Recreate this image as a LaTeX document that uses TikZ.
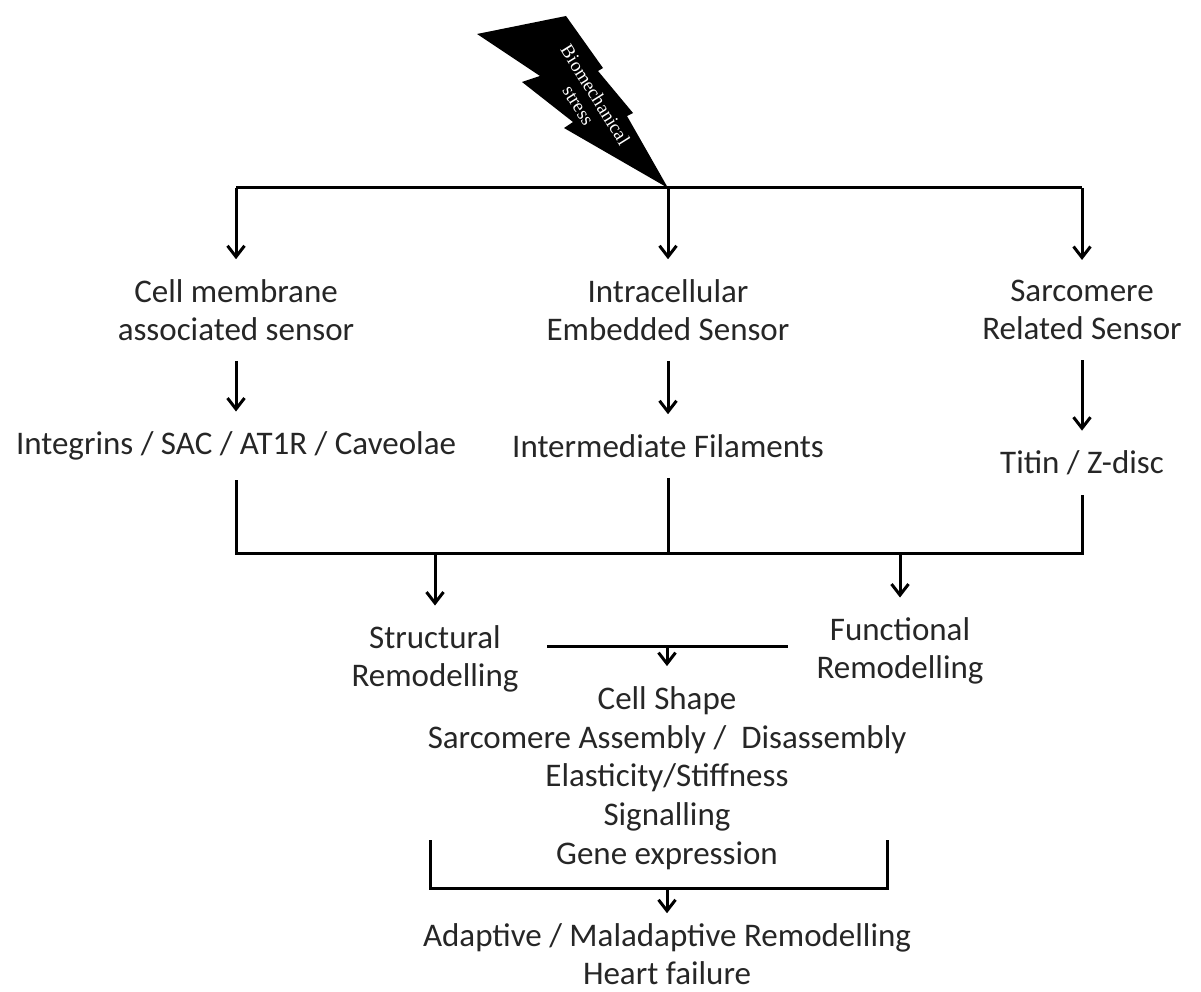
\documentclass[tikz,border=0pt]{standalone}
\usepackage{fontspec}
\setmainfont{Carlito}
\newfontfamily\boltfont{Liberation Serif}
\usetikzlibrary{arrows.meta}

\begin{document}
\begin{tikzpicture}[x=1pt, y=-1pt,
			>={Straight Barb[length=11pt,width=17pt,line width=3pt]},   %arrow tips
			line/.style={line width=3pt},
			arr/.style={line, ->},
			txt/.style={font=\fontsize{33}{38}\selectfont, text=black!85, align=center, inner xsep=0pt, inner ysep=20pt}]
			\useasboundingbox (0,0) rectangle (1201,992);
			%lightning bolt
			\fill (477,34) -- (566,16) -- (603,68) -- (598,71) -- (633,113) -- (627,116) -- (668,188)
				-- (564,128) -- (573,122) -- (522,82) -- (540,76) -- cycle;
			\node[white, rotate=-58, font=\boltfont\fontsize{19}{20}\selectfont, align=center, inner sep=0pt] (stress) at (587,100) {Biomechanical\\stress};
			%split points
			\coordinate (split) at (668,188);
			\coordinate (sl) at (236,188);
			\coordinate (sr) at (1082,188);
			%sensors
			\node[txt] (cell) at (236,310) {Cell membrane\\associated sensor};
			\node[txt] (intra) at (668,310) {Intracellular\\Embedded Sensor};
			\node[txt] (sarc) at (1082,310) {Sarcomere\\Related Sensor};
			\draw[line] (sl) -- (sr);
			\draw[arr] (sl) -- (cell);
			\draw[arr] (split) -- (intra);
			\draw[arr] (sr) -- (sarc);
			%components
			\node[txt] (integ) at (236,446) {Integrins / SAC / AT1R / Caveolae};
			\node[txt] (filam) at (668,446) {Intermediate Filaments};
			\node[txt] (titin) at (1082,463) {Titin / Z-disc};
			\draw[arr] (cell) -- (integ);
			\draw[arr] (intra) -- (filam);
			\draw[arr] (sarc) -- (titin);
			%join
			\coordinate (jl) at (236,553);
			\coordinate (jm) at (668,553);
			\coordinate (jr) at (1082,553);
			\coordinate (js) at (435,553);
			\coordinate (jf) at (900,553);
			\draw[line] (integ) -- (jl) -- (jr) -- (titin);
			\draw[line] (filam) -- (jm);
			%remodelling
			\node[txt] (struct) at (435,659) {Structural\\Remodelling};
			\node[txt] (func) at (900,651) {Functional\\Remodelling};
			\draw[arr] (js) -- (struct);
			\draw[arr] (jf) -- (func);
			%effects
			\coordinate (ml) at (547,646);
			\coordinate (mr) at (788,646);
			\coordinate (mm) at (667,646);
			\node[txt, font=\fontsize{33}{38.8}\selectfont] (effects) at (667,778)
				{Cell Shape\\Sarcomere Assembly /\ \ Disassembly\\Elasticity/Stiffness\\Signalling\\Gene expression};
			\draw[line] (ml) -- (mr);
			\draw[arr] (mm) -- (effects);
			%outcome
			\coordinate (bl) at (430,840);
			\coordinate (bl2) at (430,888);
			\coordinate (br2) at (887,888);
			\coordinate (br) at (887,840);
			\coordinate (bm) at (667,888);
			\node[txt, inner ysep=10pt] (outcome) at (667,954) {Adaptive / Maladaptive Remodelling\\Heart failure};
			\draw[line] (bl) -- (bl2) -- (br2) -- (br);
			\draw[arr] (bm) -- (outcome);
		\end{tikzpicture}
\end{document}
